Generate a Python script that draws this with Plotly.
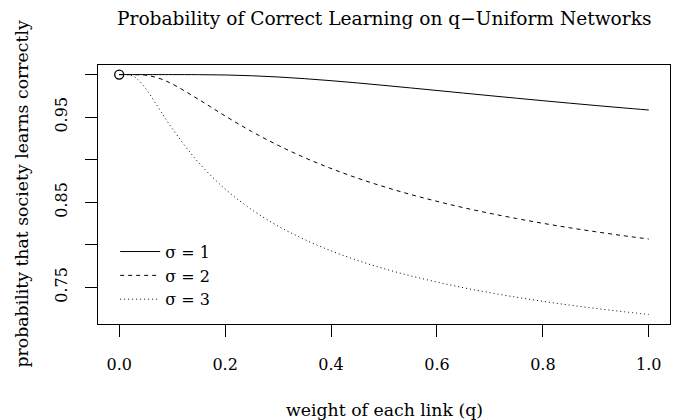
import plotly.graph_objects as go

q = [0, 0.01, 0.02, 0.03, 0.05, 0.075, 0.1, 0.15, 0.2, 0.25, 0.3, 0.35, 0.4, 0.45,
     0.5, 0.55, 0.6, 0.65, 0.7, 0.75, 0.8, 0.85, 0.9, 0.95, 1.0]
p_sigma1 = [1.0, 1.0, 1.0, 1.0, 1.0, 1.0, 1.0, 0.99992, 0.99955, 0.99865, 0.99719, 0.99521,
            0.99284, 0.99018, 0.98732, 0.98434, 0.98133, 0.97826, 0.97523, 0.97225,
            0.96933, 0.96645, 0.96367, 0.96097, 0.95836]
p_sigma2 = [1.0, 1.0, 1.0, 0.99998, 0.99932, 0.99573, 0.98903, 0.97082, 0.95139, 0.93319,
            0.91690, 0.90242, 0.88965, 0.87829, 0.86821, 0.85915, 0.85106, 0.84363,
            0.83695, 0.83084, 0.82523, 0.82003, 0.81527, 0.81084, 0.80675]
p_sigma3 = [1.0, 1.0, 0.99960, 0.99695, 0.98357, 0.96020, 0.93674, 0.89653, 0.86557, 0.84134,
            0.82199, 0.80612, 0.79289, 0.78162, 0.77195, 0.76353, 0.75616, 0.74952,
            0.74366, 0.73836, 0.73358, 0.72917, 0.72518, 0.72149, 0.71816]
series_names = ["σ = 1", "σ = 2", "σ = 3"]
start_point = ([0.0], [1.0])

x_ticks = [0.0, 0.2, 0.4, 0.6, 0.8, 1.0]
x_ticktext = ["0.0", "0.2", "0.4", "0.6", "0.8", "1.0"]
y_ticks = [0.75, 0.80, 0.85, 0.90, 0.95, 1.00]
y_ticktext = ["0.75", "", "0.85", "", "0.95", ""]

title = "Probability of Correct Learning on q\u2212Uniform Networks"
xlabel = "weight of each link (q)"
ylabel = "probability that society learns correctly"

FONT = "DejaVu Serif"

fig = go.Figure()
styles = ["solid", "4px,4px", "1px,3px"]
for ys, name, dash in zip([p_sigma1, p_sigma2, p_sigma3], series_names, styles):
    fig.add_trace(go.Scatter(x=q, y=ys, mode="lines", name=name,
                             line=dict(color="black", width=1, dash=dash, shape="spline")))
fig.add_trace(go.Scatter(x=start_point[0], y=start_point[1], mode="markers", showlegend=False,
                         marker=dict(symbol="circle-open", size=9, color="black",
                                     line=dict(width=1.3, color="black"))))

allp = p_sigma1 + p_sigma2 + p_sigma3
ymin, ymax = min(allp), max(allp)
ext = 0.04 * (ymax - ymin)

fig.update_layout(
    width=679, height=420,
    margin=dict(l=98, r=9, t=65, b=96),
    paper_bgcolor="white", plot_bgcolor="white",
    font=dict(family=FONT, size=16, color="black"),
    showlegend=True,
    legend=dict(x=0.03, y=0.345, xanchor="left", yanchor="top",
                bgcolor="rgba(0,0,0,0)", font=dict(size=16), tracegroupgap=0,
                itemwidth=40),
    xaxis=dict(range=[-0.04, 1.04], tickvals=x_ticks, ticktext=x_ticktext,
               showline=True, mirror=True, linecolor="black", linewidth=1,
               ticks="outside", ticklen=12, tickcolor="black", showgrid=False,
               zeroline=False, tickfont=dict(size=16), ticklabelstandoff=14),
    yaxis=dict(range=[ymin - ext, ymax + ext], tickvals=y_ticks, ticktext=y_ticktext,
               showline=True, mirror=True, linecolor="black", linewidth=1,
               ticks="outside", ticklen=12, tickcolor="black", showgrid=False,
               zeroline=False, tickangle=-90, tickfont=dict(size=16), ticklabelstandoff=12),
    annotations=[
        dict(text=title, x=0.5, y=1.178, xref="paper", yref="paper", showarrow=False,
             font=dict(size=18.6), xanchor="center", yanchor="middle"),
        dict(text=xlabel, x=0.5, y=-0.332, xref="paper", yref="paper", showarrow=False,
             font=dict(size=17.3), xanchor="center", yanchor="middle"),
        dict(text=ylabel, x=-0.1346, y=0.5, xref="paper", yref="paper", showarrow=False,
             font=dict(size=17.3), textangle=-90, xanchor="center", yanchor="middle"),
    ],
)

fig.write_html("out.html", config={"displayModeBar": False},
               post_script="document.body.style.margin='0px';")
